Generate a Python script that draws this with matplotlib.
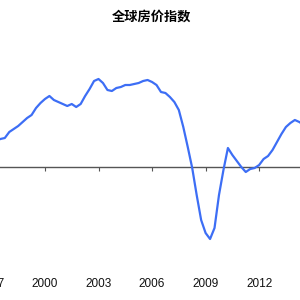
import matplotlib
matplotlib.use("Agg")
import matplotlib.pyplot as plt

# quarterly global house price index (yoy %)
quarters = [1997.25 + 0.25 * i for i in range(70)]
index_values = [
    2.6, 2.8, 2.9, 3.5, 3.8, 4.1, 4.5, 4.9, 5.2, 5.9, 6.4,   # 1997Q2 - 1999Q4
    6.8, 7.1, 6.7, 6.5, 6.3, 6.1, 6.3, 6.0, 6.3, 7.1, 7.8, 8.6,  # 2000 - 2002
    8.8, 8.4, 7.7, 7.6, 7.9, 8.0, 8.2, 8.2, 8.3, 8.4, 8.6, 8.7,  # 2003 - 2005
    8.5, 8.2, 7.5, 7.4, 7.0, 6.5, 5.7, 4.0, 2.0, -0.1, -2.8, -5.3,  # 2006 - 2008
    -6.6, -7.2, -6.1, -2.8, -0.3, 1.9, 1.2, 0.6, 0.0, -0.5, -0.2, -0.1,  # 2009 - 2011
    0.2, 0.8, 1.1, 1.7, 2.5, 3.3, 4.0, 4.4, 4.7, 4.5, 4.2,  # 2012 - 2014Q3
]
tick_years = [1997, 2000, 2003, 2006, 2009, 2012]
title = "全球房价指数"

fig = plt.figure(figsize=(3, 3), dpi=100)
ax = fig.add_axes([-0.1, 0.1, 1.2, 0.8])

ax.plot(quarters, index_values, color="#3d6ef5", linewidth=1.6)
ax.set_xlim(1995.8, 2015.97)
ax.set_ylim(-10.3, 13.7)

# year labels along the bottom, no tick marks there
for side in ["top", "right", "left", "bottom"]:
    ax.spines[side].set_visible(False)
ax.set_yticks([])
ax.set_xticks(tick_years)
ax.set_xticklabels([str(y) for y in tick_years], family="Liberation Sans",
                   fontsize=8.5, color="#111111")
ax.tick_params(axis="x", length=0, pad=6)

# zero line with small ticks
zero_frac = (0 - (-10.3)) / (13.7 - (-10.3))
zero_axis = ax.secondary_xaxis(zero_frac)
zero_axis.set_xticks(tick_years)
zero_axis.set_xticklabels([])
zero_axis.spines["bottom"].set_color("#555555")
zero_axis.spines["bottom"].set_linewidth(1.0)
zero_axis.tick_params(axis="x", direction="out", length=3, width=0.8,
                      color="#555555")

fig.text(0.505, 0.943, title, ha="center", va="center", fontsize=9.5,
         fontweight="bold", family=["Noto Sans CJK SC", "DejaVu Sans"])

fig.savefig("out.png", dpi=100, facecolor="white")
